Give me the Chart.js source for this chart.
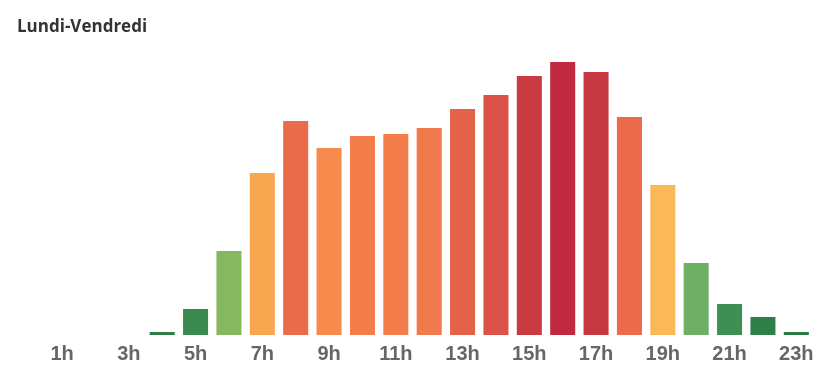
<!DOCTYPE html>
<html>
<head>
<meta charset="utf-8">
<script src="https://cdn.jsdelivr.net/npm/chart.js@4"></script>
<style>
  html, body { margin: 0; padding: 0; background: #fff; }
  #wrap { position: relative; width: 827px; height: 375px; }
  #title {
    position: absolute; left: 17px; top: 14px;
    font: bold 17px 'Open Sans', sans-serif; color: #333;
  }
</style>
</head>
<body>
<div id="wrap">
  <div id="title">Lundi-Vendredi</div>
  <canvas id="main_chart"></canvas>
</div>
<script>
const hours = [
  '0h', '1h', '2h', '3h', '4h', '5h', '6h', '7h', '8h', '9h', '10h', '11h',
  '12h', '13h', '14h', '15h', '16h', '17h', '18h', '19h', '20h', '21h', '22h', '23h',
];

const traffic = [
  0, 0, 0, 0, 3, 26, 84, 162, 214, 187, 199, 201,
  207, 226, 240, 259, 273, 263, 218, 150, 72, 31, 18, 3,
];

const bar_colors = [
  '#2a7b45', '#2a7b45', '#2a7b45', '#2a7b45', '#2e7d46', '#3a8a50', '#86b860', '#f9a650',
  '#e96b4a', '#f78a4d', '#f37d4b', '#f37d4b', '#f07a4b', '#e4624a', '#dc5248', '#c93a43',
  '#bf2a40', '#c63842', '#ea6a4b', '#fbb858', '#6fae65', '#3f8f55', '#2e8048', '#2a7b45',
];

new Chart('main_chart', {
  type: 'bar',
  data: {
    labels: hours,
    datasets: [{
      label: 'Lundi-Vendredi',
      data: traffic,
      backgroundColor: bar_colors,
      borderWidth: 0,
      categoryPercentage: 1,
      barPercentage: 0.75,
    }],
  },
  options: {
    responsive: true,
    maintainAspectRatio: false,
    animation: false,
    layout: { padding: { left: 12, right: 14, top: 44, bottom: 2 } },
    plugins: {
      legend: { display: false },
      tooltip: { enabled: false },
    },
    scales: {
      x: {
        grid: { display: false, drawTicks: false },
        border: { display: false },
        ticks: {
          autoSkip: false,
          maxRotation: 0,
          padding: 7,
          color: '#666',
          font: { family: 'Liberation Sans', size: 20, weight: 'bold' },
          callback: (v, i) => (i % 2 === 1 ? hours[i] : ''),
        },
      },
      y: {
        display: false,
        min: 0,
        max: 291,
      },
    },
  },
});
</script>
</body>
</html>
